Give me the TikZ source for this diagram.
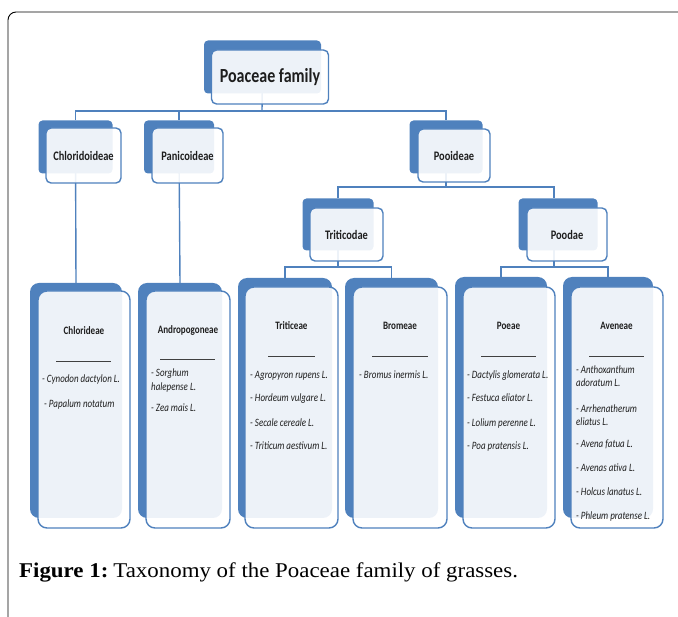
\documentclass[tikz,border=0pt]{standalone}
\usepackage{fontspec}
\setmainfont{Liberation Serif}
\newfontfamily\capfont[FakeStretch=1.09]{Liberation Serif}
\newfontfamily\calib[FakeStretch=0.8]{Carlito}
\definecolor{bl}{HTML}{4F81BD}
\definecolor{txt}{HTML}{1E1E1E}
\tikzset{
  back/.style={fill=bl, draw=none, rounded corners=4pt, inner sep=0pt},
  front/.style={fill=white, fill opacity=0.9, text opacity=1, draw=bl, line width=1.4pt, rounded corners=5pt, inner sep=0pt, text=txt},
  bigback/.style={back, rounded corners=9pt},
  bigfront/.style={front, rounded corners=9pt},
  conn/.style={draw=bl, line width=1.4pt},
  ttl/.style={font=\calib\bfseries\fontsize{13}{15}\selectfont},
  btl/.style={font=\calib\bfseries\fontsize{11.3}{13}\selectfont, text=txt, inner sep=0pt, text height=7pt, text depth=2pt},
  item/.style={font=\calib\itshape\fontsize{11.2}{13}\selectfont, text=txt, inner sep=0pt, anchor=west, text height=7.5pt, text depth=2pt},
  sep/.style={draw=black!75, line width=0.7pt},
}
\begin{document}
\begin{tikzpicture}[x=1pt,y=-1pt]
\useasboundingbox (0,0) rectangle (678,617);
% outer frame
\draw[line width=0.9pt, rounded corners=8pt] (8,620) -- (8,12) -- (690,12);

% --- connectors (behind boxes)
\coordinate (bar1) at (262,111);
\coordinate (bar2) at (446,187);
\coordinate (bar3) at (338,267);
\coordinate (bar4) at (554,267);

% boxes: back nodes
\node[back, minimum width=117pt, minimum height=53pt] (topB) at (262.5,67) {};
\node[back, minimum width=74pt, minimum height=53pt] (chB) at (75.5,147) {};
\node[back, minimum width=70pt, minimum height=53pt] (paB) at (179,147) {};
\node[back, minimum width=73pt, minimum height=53pt] (poB) at (446,147) {};
\node[back, minimum width=71pt, minimum height=52pt] (trB) at (338,224.5) {};
\node[back, minimum width=79pt, minimum height=52pt] (pdB) at (558,224.5) {};

\node[bigback, minimum width=92pt, minimum height=235pt] (b1B) at (76,400.5) {};
\node[bigback, minimum width=84pt, minimum height=235pt] (b2B) at (180,400.5) {};
\node[bigback, minimum width=94pt, minimum height=240pt] (b3B) at (285,398) {};
\node[bigback, minimum width=93pt, minimum height=240pt] (b4B) at (391.5,398) {};
\node[bigback, minimum width=92pt, minimum height=241pt] (b5B) at (501,397.5) {};
\node[bigback, minimum width=90pt, minimum height=241pt] (b6B) at (608,397.5) {};

% connectors
\draw[conn] (topB.center) -- (bar1);
\draw[conn] (chB.north) |- (bar1) -| (poB.north);
\draw[conn] (paB.north) -- (paB.north |- bar1);
\draw[conn] (chB.center) -- (b1B.north);
\draw[conn] (paB.center) -- (b2B.north);
\draw[conn] (poB.center) -- (bar2);
\draw[conn] (trB.north) |- (bar2) -| ([xshift=-4pt]pdB.north);
\draw[conn] (trB.center) -- (bar3);
\draw[conn] (b3B.north) |- (bar3) -| (b4B.north);
\draw[conn] ([xshift=-4pt]pdB.center) -- (bar4);
\draw[conn] (b5B.north) |- (bar4) -| (b6B.north);

% front boxes
\node[front, minimum width=117pt, minimum height=54pt, font=\calib\bfseries\fontsize{20}{22}\selectfont] (topF) at (270,77) {Poaceae family};
\node[front, ttl, minimum width=75pt, minimum height=55pt] (chF) at (83.5,155.5) {Chloridoideae};
\node[front, ttl, minimum width=71pt, minimum height=55pt] (paF) at (187.5,155.5) {Panicoideae};
\node[front, ttl, minimum width=72pt, minimum height=53pt] (poF) at (454,155.5) {Pooideae};
\node[front, ttl, minimum width=73pt, minimum height=53pt] (trF) at (346.5,234.5) {Triticodae};
\node[front, ttl, minimum width=80pt, minimum height=53pt] (pdF) at (567,234.5) {Poodae};

\node[bigfront, minimum width=92pt, minimum height=237pt] (b1F) at (84,409.5) {};
\node[bigfront, minimum width=84pt, minimum height=237pt] (b2F) at (188,409.5) {};
\node[bigfront, minimum width=93pt, minimum height=241pt] (b3F) at (291.5,407.5) {};
\node[bigfront, minimum width=94pt, minimum height=241pt] (b4F) at (400,407.5) {};
\node[bigfront, minimum width=92pt, minimum height=241pt] (b5F) at (509,407.5) {};
\node[bigfront, minimum width=92pt, minimum height=241pt] (b6F) at (617,407.5) {};

% --- bottom box contents
% Chlorideae
\node[btl] (t1) at (84,332) {Chlorideae};
\draw[sep] (56,361) -- (111,361);
\node[item] (i11) at (42,380) {- Cynodon dactylon L.};
\node[item] (i12) at (44,405) {- Papalum notatum};
% Andropogoneae
\node[btl] (t2) at (188,331) {Andropogoneae};
\draw[sep] (160,359) -- (215,359);
\node[item] (i21) at (151,374) {- Sorghum};
\node[item] (i22) at (151,388) {halepense L.};
\node[item] (i23) at (151,409) {- Zea mais L.};
% Triticeae
\node[btl] (t3) at (291.5,327) {Triticeae};
\draw[sep] (268,356) -- (315,356);
\node[item] (i31) at (250,376) {- Agropyron rupens L.};
\node[item] (i32) at (250,399) {- Hordeum vulgare L.};
\node[item] (i33) at (250,424) {- Secale cereale L.};
\node[item] (i34) at (250,447) {- Triticum aestivum L.};
% Bromeae
\node[btl] (t4) at (400,327) {Bromeae};
\draw[sep] (372,356) -- (428,356);
\node[item] (i41) at (359,376) {- Bromus inermis L.};
% Poeae
\node[btl] (t5) at (508.5,327) {Poeae};
\draw[sep] (481,356) -- (536,356);
\node[item] (i51) at (467,376) {- Dactylis glomerata L.};
\node[item] (i52) at (467,399) {- Festuca eliator L.};
\node[item] (i53) at (467,424) {- Lolium perenne L.};
\node[item] (i54) at (467,447) {- Poa pratensis L.};
% Aveneae
\node[btl] (t6) at (616.5,327) {Aveneae};
\draw[sep] (589,356) -- (644,356);
\node[item] (i61) at (576,371) {- Anthoxanthum};
\node[item] (i62) at (576,384) {adoratum L.};
\node[item] (i63) at (576,410) {- Arrhenatherum};
\node[item] (i64) at (576,423) {eliatus L.};
\node[item] (i65) at (576,445) {- Avena fatua L.};
\node[item] (i66) at (576,469) {- Avenas ativa L.};
\node[item] (i67) at (576,493) {- Holcus lanatus L.};
\node[item] (i68) at (576,517) {- Phleum pratense L.};

% caption
\node[anchor=base west, inner sep=0pt, font=\capfont\fontsize{21}{24}\selectfont] (cap) at (19,578) {\textbf{Figure 1:}\hspace{5pt}Taxonomy of the Poaceae family of grasses.};
\end{tikzpicture}
\end{document}
